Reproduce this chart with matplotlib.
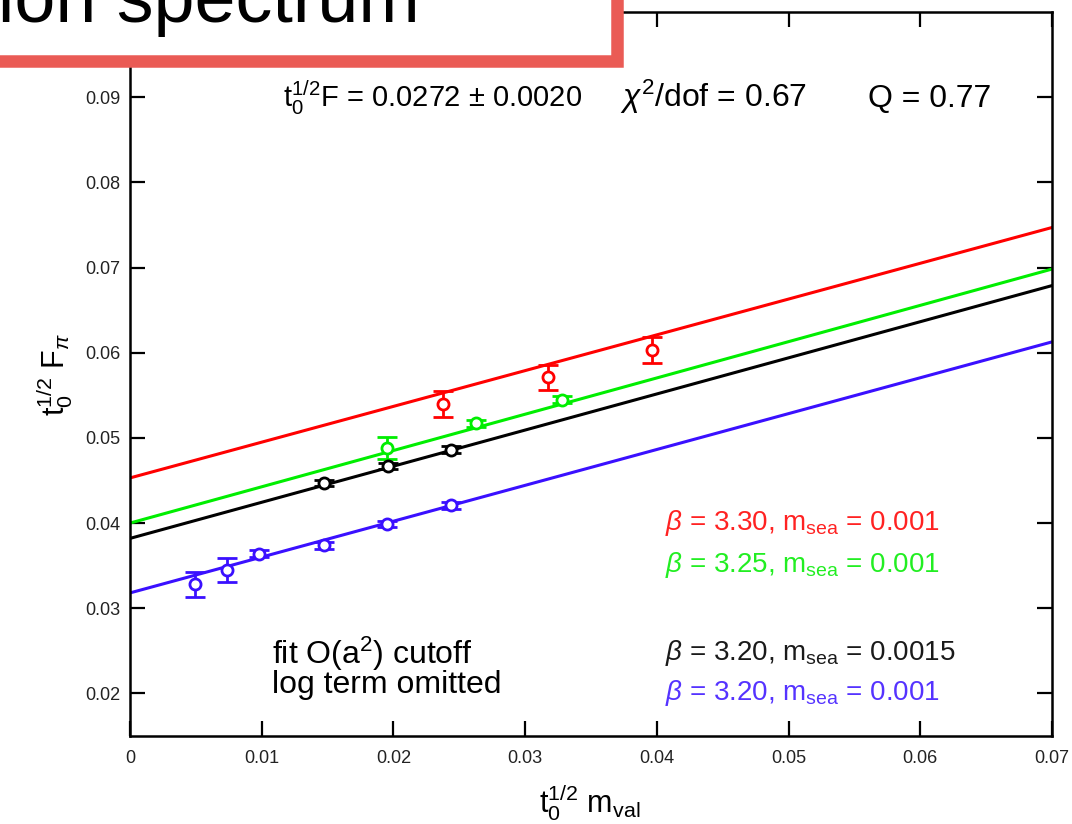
import numpy as np
import matplotlib.pyplot as plt
from matplotlib.patches import Rectangle

plt.rcParams['font.family'] = ['Liberation Sans', 'DejaVu Sans']
plt.rcParams['mathtext.fontset'] = 'custom'
plt.rcParams['mathtext.rm'] = 'Liberation Sans'
plt.rcParams['mathtext.it'] = 'Liberation Sans:italic'
plt.rcParams['mathtext.sf'] = 'Liberation Sans'

# t0^(1/2) m_val  vs  t0^(1/2) F_pi, one set per ensemble
red_x = [0.0238, 0.0317, 0.0396]
red_y = [0.0540, 0.0571, 0.0603]
red_err = [0.0015, 0.0015, 0.0015]

green_x = [0.0195, 0.0263, 0.0328]
green_y = [0.0488, 0.0517, 0.0545]
green_err = [0.0013, 0.0004, 0.0004]

black_x = [0.0147, 0.0196, 0.0244]
black_y = [0.0447, 0.0467, 0.0486]
black_err = [0.0004, 0.0004, 0.0004]

blue_x = [0.0049, 0.0074, 0.0098, 0.0147, 0.0195, 0.0244]
blue_y = [0.0328, 0.0345, 0.0364, 0.0374, 0.0399, 0.0421]
blue_err = [0.0015, 0.0014, 0.0004, 0.0004, 0.0004, 0.0004]

# linear fit per ensemble: value at m_val = 0 and slope
fit_intercept = [0.0453, 0.0400, 0.0382, 0.0318]
fit_slope = [0.420, 0.426, 0.424, 0.421]

labels = [r'$\beta$ = 3.30, m$_{\rm sea}$ = 0.001',
          r'$\beta$ = 3.25, m$_{\rm sea}$ = 0.001',
          r'$\beta$ = 3.20, m$_{\rm sea}$ = 0.0015',
          r'$\beta$ = 3.20, m$_{\rm sea}$ = 0.001']
label_y = [0.0392, 0.0343, 0.0239, 0.0192]

colors = ['#ff0000', '#00ee00', '#000000', '#3a10ff']
text_colors = ['#ff2222', '#22ee22', '#1a1a1a', '#5533ff']

sets = [(red_x, red_y, red_err), (green_x, green_y, green_err),
        (black_x, black_y, black_err), (blue_x, blue_y, blue_err)]

fig = plt.figure(figsize=(10.72, 8.24), dpi=100)
ax = fig.add_axes([0.1213, 0.1068, 0.86, 0.8786])

xfit = np.array([0.0, 0.07])
for i, (x, y, e) in enumerate(sets):
    ax.plot(xfit, fit_intercept[i] + fit_slope[i] * xfit, color=colors[i], lw=2.2, zorder=2)
    ax.errorbar(x, y, yerr=e, fmt='o', color=colors[i], mfc='white', ms=8, mew=2,
                elinewidth=2, capsize=7, capthick=2, zorder=3)
    ax.text(0.0406, label_y[i], labels[i], color=text_colors[i], fontsize=20, va='baseline')

ax.set_xlim(0, 0.07)
ax.set_ylim(0.015, 0.1)
ax.set_xticks(np.arange(0, 0.071, 0.01))
ax.set_xticklabels(['0', '0.01', '0.02', '0.03', '0.04', '0.05', '0.06', '0.07'])
ax.set_yticks(np.arange(0.02, 0.091, 0.01))
ax.set_yticklabels(['0.02', '0.03', '0.04', '0.05', '0.06', '0.07', '0.08', '0.09'])
ax.tick_params(direction='in', length=11, width=1.6, top=True, right=True,
               labelsize=13, labelcolor='#222222')
ax.tick_params(axis='x', pad=10)
ax.tick_params(axis='y', pad=7)
for s in ax.spines.values():
    s.set_linewidth(1.8)

ax.set_xlabel(r't$_0^{1/2}$ m$_{\rm val}$', fontsize=22)
ax.set_ylabel(r't$_0^{1/2}$ F$_\pi$', fontsize=22)
ax.xaxis.set_label_coords(0.499, -0.064)
ax.yaxis.set_label_coords(-0.060, 0.5)

ax.text(0.01162, 0.0888, r't$_0^{1/2}$F = 0.0272 $\pm$ 0.0020', fontsize=21, va='baseline')
ax.text(0.0372, 0.0888, r'$\chi^2$/dof = 0.67', fontsize=23, va='baseline')
ax.text(0.0560, 0.0888, 'Q = 0.77', fontsize=23, va='baseline')

ax.text(0.0108, 0.0235, 'fit O(a$^2$) cutoff', fontsize=23, va='baseline')
ax.text(0.0108, 0.0200, 'log term omitted', fontsize=23, va='baseline')

# slide title box over the top-left corner
fig.add_artist(Rectangle((-0.02, 0.9254), (618 + 20) / 1072, 0.1, transform=fig.transFigure,
                         facecolor='white', edgecolor='#ea5b55', lw=9, zorder=5))
fig.text(-0.002, 0.9733, 'ion spectrum', fontsize=53, va='baseline', ha='left', zorder=6)

fig.savefig('out.png', dpi=100)
